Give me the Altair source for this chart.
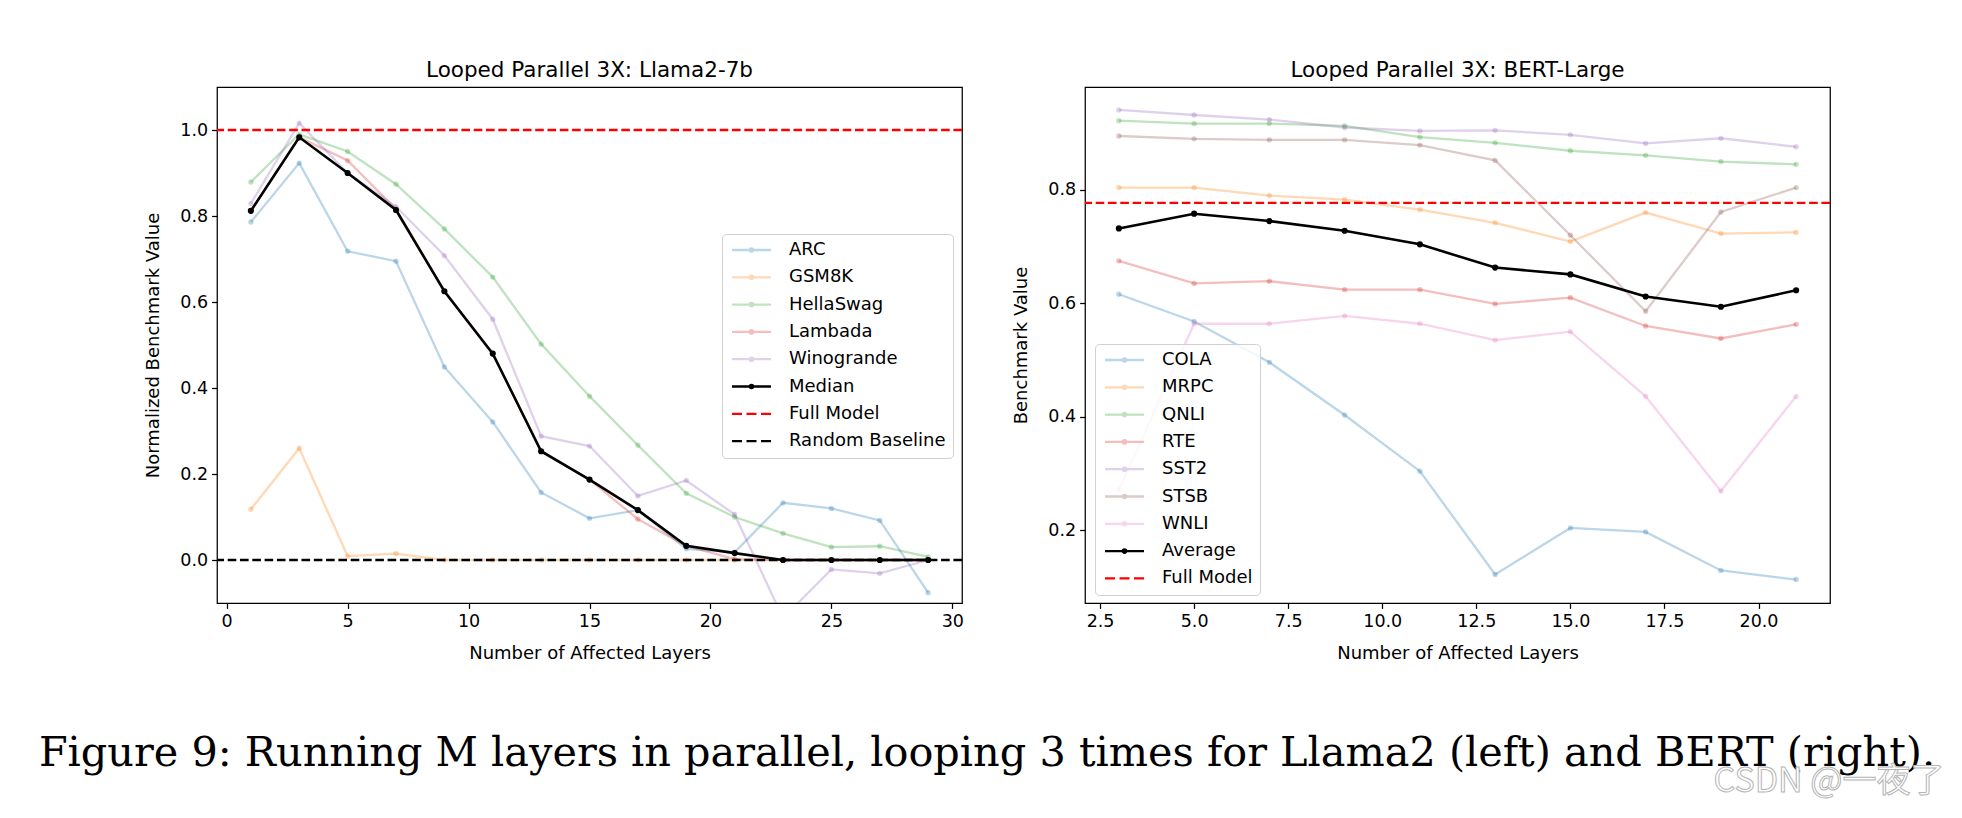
import altair as alt
import pandas as pd

# ---------------- data ----------------
left_x = [1, 3, 5, 7, 9, 11, 13, 15, 17, 19, 21, 23, 25, 27, 29]
arc = [0.786, 0.923, 0.718, 0.695, 0.449, 0.321, 0.157, 0.097, 0.116, 0.026, 0.018, 0.133, 0.120, 0.092, -0.076]
gsm8k = [0.118, 0.260, 0.009, 0.015, 0.0, 0.0, 0.0, 0.0, 0.0, 0.0, 0.0, 0.0, 0.0, 0.0, 0.0]
hellaswag = [0.879, 0.990, 0.950, 0.874, 0.770, 0.658, 0.502, 0.381, 0.267, 0.155, 0.100, 0.062, 0.030, 0.032, 0.007]
lambada = [0.812, 0.983, 0.929, 0.816, 0.625, 0.480, 0.253, 0.187, 0.095, 0.033, 0.002, 0.0, 0.0, 0.0, 0.0]
winogrande = [0.829, 1.016, 0.900, 0.822, 0.708, 0.560, 0.288, 0.265, 0.149, 0.185, 0.106, -0.135, -0.022, -0.031, 0.0]
median = [0.812, 0.983, 0.900, 0.814, 0.625, 0.480, 0.253, 0.187, 0.116, 0.033, 0.016, 0.0, 0.0, 0.0, 0.0]
left_full_model = 1.0
left_random = 0.0

right_x = [3, 5, 7, 9, 11, 13, 15, 17, 19, 21]
cola = [0.616, 0.568, 0.496, 0.403, 0.304, 0.122, 0.204, 0.197, 0.129, 0.113]
mrpc = [0.804, 0.804, 0.790, 0.783, 0.765, 0.742, 0.709, 0.760, 0.723, 0.725]
qnli = [0.922, 0.917, 0.917, 0.913, 0.893, 0.883, 0.869, 0.861, 0.850, 0.845]
rte = [0.675, 0.635, 0.639, 0.624, 0.624, 0.599, 0.610, 0.560, 0.538, 0.563]
sst2 = [0.941, 0.932, 0.924, 0.910, 0.904, 0.905, 0.897, 0.882, 0.891, 0.876]
stsb = [0.895, 0.890, 0.888, 0.888, 0.879, 0.852, 0.720, 0.586, 0.761, 0.804]
wnli = [0.271, 0.564, 0.564, 0.578, 0.564, 0.535, 0.550, 0.436, 0.269, 0.436]
average = [0.732, 0.758, 0.745, 0.728, 0.704, 0.663, 0.651, 0.612, 0.594, 0.623]
right_full_model = 0.777

left_names = ["ARC", "GSM8K", "HellaSwag", "Lambada", "Winogrande", "Median"]
left_refs = ["Full Model", "Random Baseline"]
right_names = ["COLA", "MRPC", "QNLI", "RTE", "SST2", "STSB", "WNLI", "Average"]
right_refs = ["Full Model"]

left_xticks = [0, 5, 10, 15, 20, 25, 30]
left_yticks = [0.0, 0.2, 0.4, 0.6, 0.8, 1.0]
right_xticks = [2.5, 5.0, 7.5, 10.0, 12.5, 15.0, 17.5, 20.0]
right_yticks = [0.2, 0.4, 0.6, 0.8]

left_title = "Looped Parallel 3X: Llama2-7b"
right_title = "Looped Parallel 3X: BERT-Large"
x_title = "Number of Affected Layers"
left_ytitle = "Normalized Benchmark Value"
right_ytitle = "Benchmark Value"
caption = "Figure 9: Running M layers in parallel, looping 3 times for Llama2 (left) and BERT (right)."
watermark = "CSDN @一夜了"

# ---------------- styles ----------------
A = 0.3
BLUE = f"rgba(31,119,180,{A})"
ORANGE = f"rgba(255,127,14,{A})"
GREEN = f"rgba(44,160,44,{A})"
RED = f"rgba(214,39,40,{A})"
PURPLE = f"rgba(148,103,189,{A})"
BROWN = f"rgba(140,86,75,{A})"
PINK = f"rgba(227,119,194,{A})"

LINE_DOT = "M-1.2,0H6.6M2.37,0A0.33,0.33,0,1,0,3.03,0A0.33,0.33,0,1,0,2.37,0"
DASH3 = "M-1.2,0H0.8M1.7,0H3.7M4.6,0H6.6"

FONT = "DejaVu Sans"
TICK_FS = 17.5
FS = 18
LW = 2.3
DASH = [8.6, 3.7]


def long_df(xs, names, arrays):
    rows = []
    for n, arr in zip(names, arrays):
        for x, v in zip(xs, arr):
            rows.append({"x": x, "value": v, "series": n})
    return pd.DataFrame(rows)


def panel(df, names, refs, ref_vals, ref_colors, colors, xdom, xticks, xfmt,
          ydom, yticks, ytitle, title, lx, ly, extra):
    legend_names = names + refs
    shapes = [LINE_DOT] * len(names) + [DASH3] * len(refs)
    cscale = alt.Scale(domain=names, range=colors)
    sscale = alt.Scale(domain=legend_names, range=colors + ref_colors)
    X = alt.X("x:Q", scale=alt.Scale(domain=xdom, nice=False, zero=False),
              axis=alt.Axis(values=xticks, format=xfmt, title=x_title))
    Y = alt.Y("value:Q", scale=alt.Scale(domain=ydom, nice=False, zero=False),
              axis=alt.Axis(values=yticks, format=".1f", title=ytitle))
    main_name = names[-1]
    others = alt.Chart(df).transform_filter(
        alt.FieldOneOfPredicate(field="series", oneOf=names[:-1]))
    main = alt.Chart(df).transform_filter(
        alt.FieldEqualPredicate(field="series", equal=main_name))

    lines = others.mark_line(strokeWidth=LW, clip=True).encode(
        x=X, y=Y, color=alt.Color("series:N", scale=cscale, legend=None))
    pts = others.mark_point(filled=True, size=28, opacity=1, clip=True).encode(
        x=X, y=Y, color=alt.Color("series:N", scale=cscale, legend=None))
    mline = main.mark_line(strokeWidth=2.6, color="black", clip=True).encode(x=X, y=Y)
    mpts = main.mark_point(filled=True, size=38, opacity=1, color="black", clip=True).encode(x=X, y=Y)

    layers = [lines, pts, mline, mpts]
    for r, v, c in zip(refs, ref_vals, ref_colors):
        rule = alt.Chart(pd.DataFrame({"series": [r], "value": [v]})).mark_rule(
            color=c, strokeDash=DASH, strokeWidth=LW).encode(y=alt.Y("value:Q"))
        layers.append(rule)

    leg = alt.Legend(title=None, orient="none", legendX=lx, legendY=ly,
                     fillColor="rgba(255,255,255,0.8)", strokeColor="#d0d0d0",
                     cornerRadius=4, padding=7, labelFont=FONT, labelFontSize=FS,
                     labelColor="black", symbolSize=100, symbolStrokeWidth=LW,
                     symbolOpacity=1, symbolFillColor="transparent",
                     rowPadding=9.3, labelOffset=42,
                     symbolOffset=0, labelLimit=0)
    carrier = alt.Chart(pd.DataFrame({"series": legend_names})).mark_point(
        filled=False, opacity=0).encode(
        stroke=alt.Stroke("series:N", scale=sscale, legend=leg),
        shape=alt.Shape("series:N", scale=alt.Scale(domain=legend_names, range=shapes), legend=leg))
    layers.append(carrier)
    layers.extend(extra)
    return alt.layer(*layers).properties(width=745, height=516, title=title)


left_df = long_df(left_x, left_names,
                  [arc, gsm8k, hellaswag, lambada, winogrande, median])
right_df = long_df(right_x, right_names,
                   [cola, mrpc, qnli, rte, sst2, stsb, wnli, average])

# caption (below both panels) and watermark, as annotation texts
cap = alt.Chart(pd.DataFrame({"t": [caption]})).mark_text(
    font="DejaVu Serif", fontSize=41.4, align="center", baseline="alphabetic",
    color="black").encode(text="t:N", x=alt.value(770), y=alt.value(679))
wm = alt.Chart(pd.DataFrame({"t": [watermark]})).mark_text(
    font="Noto Sans CJK SC", fontSize=34, align="center", baseline="alphabetic",
    color="white", stroke="#b5b5b5", strokeWidth=1).encode(
    text="t:N", x=alt.value(744), y=alt.value(705))

left = panel(left_df, left_names, left_refs, [left_full_model, left_random],
             ["red", "black"], [BLUE, ORANGE, GREEN, RED, PURPLE, "black"],
             [-0.4, 30.4], left_xticks, "d", [-0.1, 1.1], left_yticks,
             left_ytitle, left_title, 505, 147, [cap])
right = panel(right_df, right_names, right_refs, [right_full_model],
              ["red"], [BLUE, ORANGE, GREEN, RED, PURPLE, BROWN, PINK, "black"],
              [2.1, 21.9], right_xticks, ".1f", [0.0716, 0.9814], right_yticks,
              right_ytitle, right_title, 10, 257, [wm])

chart = alt.hconcat(left, right, spacing=123, bounds="flush").resolve_scale(
    color="independent", stroke="independent", shape="independent",
    x="independent", y="independent"
).resolve_legend(color="independent", stroke="independent", shape="independent"
).properties(
    padding={"left": 30, "top": 50, "right": 4, "bottom": 4}
).configure_view(stroke="black", strokeWidth=1.25).configure_axis(
    grid=False, domain=False, tickColor="black", tickWidth=1.25, tickSize=5.4,
    labelPadding=4, labelFont=FONT, labelFontSize=TICK_FS, labelColor="black",
    titleFont=FONT, titleFontSize=FS, titleFontWeight="normal", titleColor="black"
).configure_axisX(titlePadding=15).configure_axisY(titlePadding=17).configure_title(
    font=FONT, fontSize=21.5, fontWeight="normal", color="black", offset=6, anchor="middle"
)

chart.save("out.html", embed_options={"renderer": "svg", "actions": False})
